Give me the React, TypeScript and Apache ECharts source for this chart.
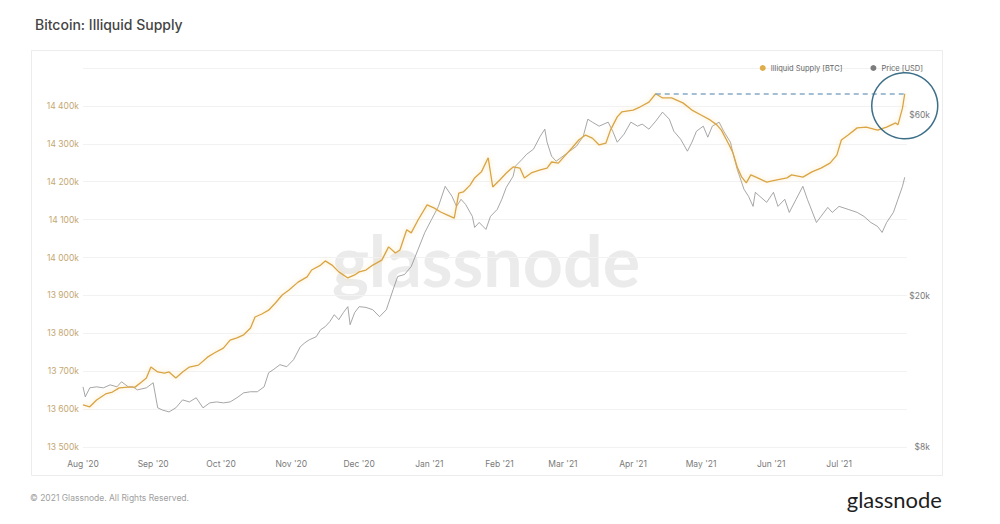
import React, { useEffect, useRef } from "react";
import * as echarts from "echarts";

const supplyDates = [
  "2020-08-01","2020-08-04","2020-08-07","2020-08-11","2020-08-14","2020-08-17","2020-08-21","2020-08-24","2020-08-27","2020-08-29",
  "2020-08-31","2020-09-03","2020-09-06","2020-09-08","2020-09-11","2020-09-14","2020-09-17","2020-09-21","2020-09-25","2020-09-28",
  "2020-10-02","2020-10-05","2020-10-08","2020-10-11","2020-10-14","2020-10-16","2020-10-19","2020-10-22","2020-10-25","2020-10-28",
  "2020-10-31","2020-11-04","2020-11-08","2020-11-10","2020-11-14","2020-11-16","2020-11-19","2020-11-22","2020-11-26","2020-11-29",
  "2020-12-01","2020-12-04","2020-12-07","2020-12-11","2020-12-14","2020-12-17","2020-12-19","2020-12-22","2020-12-24","2020-12-27",
  "2020-12-31","2021-01-03","2021-01-06","2021-01-09","2021-01-12","2021-01-14","2021-01-16","2021-01-19","2021-01-21","2021-01-24",
  "2021-01-27","2021-01-29","2021-02-01","2021-02-04","2021-02-07","2021-02-10","2021-02-12","2021-02-15","2021-02-19","2021-02-22",
  "2021-02-24","2021-02-27","2021-03-03","2021-03-05","2021-03-08","2021-03-11","2021-03-14","2021-03-17","2021-03-20","2021-03-22",
  "2021-03-25","2021-03-27","2021-04-01","2021-04-04","2021-04-08","2021-04-11","2021-04-14","2021-04-18","2021-04-23","2021-04-27",
  "2021-05-01","2021-05-05","2021-05-08","2021-05-10","2021-05-13","2021-05-15","2021-05-17","2021-05-19","2021-05-21","2021-05-23",
  "2021-05-26","2021-05-30","2021-06-03","2021-06-08","2021-06-10","2021-06-15","2021-06-19","2021-06-23","2021-06-27","2021-06-30",
  "2021-07-02","2021-07-05","2021-07-09","2021-07-13","2021-07-18","2021-07-22","2021-07-26","2021-07-27","2021-07-29","2021-07-30"
];
// Illiquid supply, thousands of BTC
const supplyValues = [
  13611,13606,13624,13640,13645,13656,13658,13658,13672,13682,
  13711,13698,13695,13698,13682,13698,13711,13716,13737,13748,
  13761,13782,13788,13796,13814,13843,13851,13861,13880,13901,
  13914,13935,13949,13967,13980,13991,13980,13962,13946,13954,
  13962,13967,13980,13993,14028,14012,14020,14073,14065,14099,
  14139,14131,14120,14112,14104,14170,14173,14191,14210,14226,
  14263,14186,14204,14223,14239,14236,14210,14223,14231,14236,
  14252,14249,14276,14289,14310,14323,14315,14297,14302,14336,
  14371,14384,14389,14397,14410,14432,14421,14421,14408,14389,
  14376,14363,14350,14336,14302,14278,14239,14212,14197,14218,
  14210,14199,14204,14210,14218,14212,14226,14236,14249,14270,
  14310,14323,14342,14344,14336,14344,14355,14350,14394,14432
];

const priceDates = [
  "2020-08-01","2020-08-02","2020-08-04","2020-08-07","2020-08-10","2020-08-13","2020-08-16","2020-08-18","2020-08-21","2020-08-23",
  "2020-08-25","2020-08-29","2020-09-01","2020-09-03","2020-09-05","2020-09-08","2020-09-11","2020-09-14","2020-09-17","2020-09-20",
  "2020-09-23","2020-09-26","2020-09-29","2020-10-02","2020-10-05","2020-10-08","2020-10-11","2020-10-14","2020-10-17","2020-10-20",
  "2020-10-22","2020-10-24","2020-10-27","2020-10-30","2020-11-02","2020-11-05","2020-11-07","2020-11-09","2020-11-12","2020-11-14",
  "2020-11-16","2020-11-18","2020-11-20","2020-11-22","2020-11-24","2020-11-26","2020-11-27","2020-11-29","2020-12-01","2020-12-04",
  "2020-12-07","2020-12-10","2020-12-13","2020-12-16","2020-12-18","2020-12-21","2020-12-24","2020-12-27","2020-12-30","2021-01-02",
  "2021-01-05","2021-01-08","2021-01-11","2021-01-13","2021-01-15","2021-01-17","2021-01-20","2021-01-21","2021-01-23","2021-01-26",
  "2021-01-28","2021-01-31","2021-02-02","2021-02-04","2021-02-07","2021-02-08","2021-02-11","2021-02-13","2021-02-16","2021-02-19",
  "2021-02-21","2021-02-22","2021-02-24","2021-02-26","2021-03-01","2021-03-04","2021-03-07","2021-03-10","2021-03-12","2021-03-14",
  "2021-03-17","2021-03-21","2021-03-23","2021-03-25","2021-03-28","2021-03-31","2021-04-03","2021-04-05","2021-04-08","2021-04-11",
  "2021-04-14","2021-04-17","2021-04-19","2021-04-22","2021-04-25","2021-04-27","2021-04-29","2021-05-02","2021-05-04","2021-05-06",
  "2021-05-09","2021-05-11","2021-05-14","2021-05-15","2021-05-17","2021-05-20","2021-05-22","2021-05-24","2021-05-25","2021-05-27",
  "2021-05-30","2021-06-02","2021-06-04","2021-06-07","2021-06-09","2021-06-12","2021-06-15","2021-06-17","2021-06-21","2021-06-23",
  "2021-06-26","2021-06-28","2021-07-01","2021-07-05","2021-07-09","2021-07-12","2021-07-15","2021-07-18","2021-07-20","2021-07-22",
  "2021-07-25","2021-07-27","2021-07-29","2021-07-30"
];
// BTC price, USD
const priceValues = [
  11530,10850,11460,11530,11460,11670,11530,11890,11530,11530,
  11320,11460,11820,10150,10020,9900,10150,10650,10520,10790,
  10150,10460,10520,10460,10520,10790,11120,11190,11190,11530,
  12560,12790,13190,13030,13590,14710,15070,15350,15630,16320,
  16620,17130,17870,17340,18100,18770,16820,18100,18770,18680,
  18420,17660,18420,20820,22540,22810,23950,26560,29460,31890,
  34510,38980,36680,34510,36020,34940,32470,30370,31300,30010,
  32470,33890,36020,38750,41440,44040,45960,47380,48850,52870,
  55170,50970,46810,45400,46810,48260,49750,52870,58620,57570,
  56190,57570,54490,50970,53510,57570,56190,56890,55170,57920,
  61190,58620,54490,51910,48260,50970,54490,56190,52550,56190,
  57570,54490,50970,47970,43240,38280,36680,34510,37590,36680,
  35370,37590,34510,36020,33270,36020,38980,36020,31300,32470,
  34300,33270,34510,33890,33270,32470,31300,30550,29460,31300,
  33270,36020,38980,41190
];

const monthTickDates = [
  "2020-08-01","2020-09-01","2020-10-01","2020-11-01","2020-12-01","2021-01-01",
  "2021-02-01","2021-03-01","2021-04-01","2021-05-01","2021-06-01","2021-07-01"
];
const monthTickLabels = [
  "Aug '20","Sep '20","Oct '20","Nov '20","Dec '20","Jan '21",
  "Feb '21","Mar '21","Apr '21","May '21","Jun '21","Jul '21"
];
const priceTicks = [8000, 20000, 60000];
const supplyMin = 13500;
const supplyMax = 14500;
const supplyStep = 100;
const priceMin = 8000;
const priceMax = 80000;
const xStart = "2020-08-01";
const xEnd = "2021-07-31";

const toTs = (s: string) => {
  const [y, m, d] = s.split("-").map(Number);
  return Date.UTC(y, m - 1, d);
};

const fmtSupply = (v: number) => {
  const th = Math.floor(v / 1000);
  const rest = String(Math.round(v % 1000)).padStart(3, "0");
  return `${th} ${rest}k`;
};

export default function App() {
  const ref = useRef<HTMLDivElement>(null);

  useEffect(() => {
    document.body.style.margin = "0";
    const chart = echarts.init(ref.current!, undefined, { renderer: "svg" });

    const supplyData = supplyDates.map((d, i) => [toTs(d), supplyValues[i]]);
    const priceData = priceDates.map((d, i) => [toTs(d), Math.log10(priceValues[i])]);
    const maxVal = Math.max(...supplyValues);
    const peakIdx = supplyValues.indexOf(maxVal);
    const lastIdx = supplyValues.length - 1;
    const monthTs = monthTickDates.map(toTs);

    const font = "Inter, 'Noto Sans', sans-serif";

    chart.setOption({
      animation: false,
      backgroundColor: "#ffffff",
      title: {
        text: "Bitcoin: Illiquid Supply",
        left: 30,
        top: 12,
        textStyle: { fontSize: 14, fontWeight: 500, color: "#444444", fontFamily: font },
      },
      legend: {
        right: 72,
        top: 59,
        icon: "circle",
        itemWidth: 6,
        itemHeight: 6,
        itemGap: 28,
        textStyle: { fontSize: 7.5, color: "#666", fontFamily: font },
        data: ["Illiquid Supply [BTC]", "Price [USD]"],
      },
      grid: { left: 83, right: 93, top: 68, bottom: 77, containLabel: false },
      xAxis: {
        type: "value",
        min: toTs(xStart),
        max: toTs(xEnd),
        axisLine: { show: false },
        axisTick: { show: false },
        splitLine: { show: false },
        axisLabel: {
          customValues: monthTs,
          margin: 12,
          fontSize: 8.5,
          color: "#7a7a7a",
          fontFamily: font,
          formatter: (v: number) => {
            const i = monthTs.indexOf(v);
            return i >= 0 ? monthTickLabels[i] : "";
          },
        },
      },
      yAxis: [
        {
          type: "value",
          min: supplyMin,
          max: supplyMax,
          interval: supplyStep,
          axisLine: { show: false },
          axisTick: { show: false },
          splitLine: { show: true, lineStyle: { color: "#f2f2f2", width: 1 } },
          axisLabel: {
            showMaxLabel: false,
            margin: 4,
            fontSize: 8.5,
            color: "#c4a873",
            fontFamily: font,
            formatter: (v: number) => fmtSupply(v),
          },
        },
        {
          type: "value",
          position: "right",
          min: Math.log10(priceMin),
          max: Math.log10(priceMax),
          axisLine: { show: false },
          axisTick: { show: false },
          splitLine: { show: false },
          axisLabel: {
            customValues: priceTicks.map((p) => Math.log10(p)),
            align: "right",
            margin: 23,
            fontSize: 8.5,
            color: "#7a7a7a",
            fontFamily: font,
            formatter: (v: number) => "$" + Math.round(Math.pow(10, v) / 1000) + "k",
          },
        },
      ],
      graphic: [
        {
          type: "rect",
          shape: { x: 31.5, y: 50.5, width: 911, height: 425 },
          style: { fill: "none", stroke: "#ececec", lineWidth: 1 },
          silent: true,
          z: -10,
        },
        {
          type: "text",
          x: 486,
          y: 260,
          z: -5,
          silent: true,
          style: {
            text: "glassnode",
            fontSize: 70,
            fontWeight: "bold",
            fontFamily: "Lato, 'Open Sans', sans-serif",
            fill: "#ebebeb",
            align: "center",
            verticalAlign: "middle",
          },
        },
        {
          type: "text",
          x: 30,
          y: 498,
          silent: true,
          style: {
            text: "© 2021 Glassnode. All Rights Reserved.",
            fontSize: 8.5,
            fontFamily: font,
            fill: "#a0a0a0",
            verticalAlign: "middle",
          },
        },
        {
          type: "text",
          x: 942,
          y: 499,
          silent: true,
          style: {
            text: "glassnode",
            fontSize: 22,
            fontFamily: "Lato, 'Open Sans', sans-serif",
            fill: "#1e1e1e",
            align: "right",
            verticalAlign: "middle",
          },
        },
      ],
      series: [
        {
          name: "Price [USD]",
          type: "line",
          yAxisIndex: 1,
          data: priceData,
          showSymbol: false,
          symbol: "none",
          itemStyle: { color: "#7d7d7d" },
          lineStyle: { color: "#8f8f8f", width: 0.8 },
          z: 2,
        },
        {
          name: "Illiquid Supply [BTC]",
          type: "line",
          yAxisIndex: 0,
          data: supplyData,
          showSymbol: false,
          symbol: "none",
          itemStyle: { color: "#e0ad4a" },
          lineStyle: {
            color: "#d9a443",
            width: 1.3,
            shadowColor: "rgba(248, 210, 130, 0.7)",
            shadowBlur: 5,
          },
          z: 3,
          markLine: {
            silent: true,
            symbol: "none",
            label: { show: false },
            lineStyle: { color: "#86a9c6", width: 1.5, type: [5, 4] },
            data: [
              [
                { coord: [toTs(supplyDates[peakIdx]), maxVal] },
                { coord: [toTs(supplyDates[lastIdx]), maxVal] },
              ],
            ],
          },
          markPoint: {
            silent: true,
            symbol: "circle",
            symbolSize: 66,
            symbolOffset: [0, 12],
            label: { show: false },
            itemStyle: { color: "rgba(0,0,0,0)", borderColor: "#3d6f88", borderWidth: 1.5 },
            data: [{ coord: [toTs(supplyDates[lastIdx]), supplyValues[lastIdx]] }],
          },
        },
      ],
    });

    return () => chart.dispose();
  }, []);

  return <div ref={ref} style={{ width: 1000, height: 524 }} />;
}
